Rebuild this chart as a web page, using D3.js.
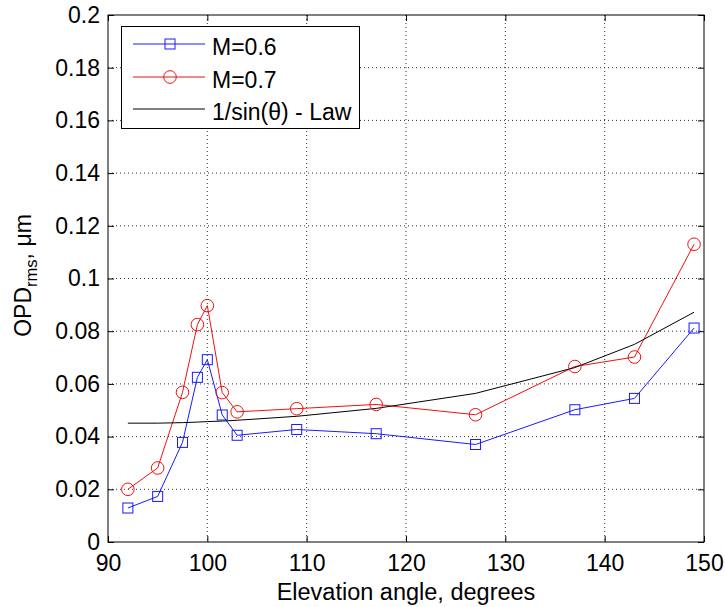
<!DOCTYPE html>
<html>
<head>
<meta charset="utf-8">
<script src="https://cdn.jsdelivr.net/npm/d3@7"></script>
<style>
  html, body { margin: 0; padding: 0; background: #fff; }
  svg { display: block; }
  text { font-family: "Liberation Sans", Arial, sans-serif; fill: #000; }
</style>
</head>
<body>
<svg id="chart" width="725" height="607"></svg>
<script>
// ---- data ----
const angles   = [92, 95, 97.5, 99, 100, 101.5, 103, 109, 117, 127, 137, 143, 149];
const m06      = [0.0129, 0.0173, 0.0378, 0.0625, 0.0692, 0.0482, 0.0405, 0.0427, 0.0411, 0.0370, 0.0502, 0.0545, 0.0812];
const m07      = [0.0200, 0.0281, 0.0568, 0.0825, 0.0897, 0.0567, 0.0494, 0.0506, 0.0522, 0.0483, 0.0666, 0.0702, 0.1130];
const lawVals  = [0.0451, 0.0451, 0.0453, 0.0455, 0.0457, 0.0459, 0.0462, 0.0477, 0.0507, 0.0564, 0.0662, 0.0750, 0.0872];
const xTicks   = [90, 100, 110, 120, 130, 140, 150];
const yTicks   = [0, 0.02, 0.04, 0.06, 0.08, 0.1, 0.12, 0.14, 0.16, 0.18, 0.2];
const seriesNames = ["M=0.6", "M=0.7", "1/sin(\u03B8) - Law"];

// ---- layout ----
const L = 108, R = 704, T = 15, B = 542;
const svg = d3.select("#chart");
const x = d3.scaleLinear().domain([90, 150]).range([L, R]);
const y = d3.scaleLinear().domain([0, 0.2]).range([B, T]);
const FS = 23;

// grid
const grid = svg.append("g");
grid.selectAll("line.gx").data(xTicks.slice(1, -1)).enter().append("line")
  .attr("x1", d => x(d)).attr("x2", d => x(d)).attr("y1", T).attr("y2", B)
  .attr("stroke", "#333").attr("stroke-width", 1).attr("stroke-dasharray", "1,3");
grid.selectAll("line.gy").data(yTicks.slice(1, -1)).enter().append("line")
  .attr("y1", d => y(d)).attr("y2", d => y(d)).attr("x1", L).attr("x2", R)
  .attr("stroke", "#333").attr("stroke-width", 1).attr("stroke-dasharray", "1,3");

// axes (inward ticks, MATLAB style)
const tickLen = 6;
const fmtY = d => d === 0 ? "0" : String(+d.toFixed(2));
const axB = svg.append("g").attr("transform", `translate(0,${B})`)
  .call(d3.axisBottom(x).tickValues(xTicks).tickSizeInner(-tickLen).tickSizeOuter(0).tickPadding(13));
const axT = svg.append("g").attr("transform", `translate(0,${T})`)
  .call(d3.axisTop(x).tickValues(xTicks).tickSizeInner(-tickLen).tickSizeOuter(0).tickFormat(""));
const axL = svg.append("g").attr("transform", `translate(${L},0)`)
  .call(d3.axisLeft(y).tickValues(yTicks).tickFormat(fmtY).tickSizeInner(-tickLen).tickSizeOuter(0).tickPadding(8));
const axR = svg.append("g").attr("transform", `translate(${R},0)`)
  .call(d3.axisRight(y).tickValues(yTicks).tickSizeInner(-tickLen).tickSizeOuter(0).tickFormat(""));
[axB, axT, axL, axR].forEach(a => {
  a.select(".domain").remove();
  a.selectAll("line").attr("stroke", "#000");
  a.selectAll("text").attr("font-size", FS).attr("font-family", "Liberation Sans, Arial, sans-serif").attr("fill", "#000");
});
axB.selectAll("text").attr("dy", "0.71em");

// box
svg.append("rect").attr("x", L).attr("y", T).attr("width", R - L).attr("height", B - T)
  .attr("fill", "none").attr("stroke", "#000").attr("stroke-width", 1);

// lines
const line = d3.line().x(d => x(d[0])).y(d => y(d[1]));
const blue = "#1a1aff", red = "#ee1111";
const s06 = angles.map((a, i) => [a, m06[i]]);
const s07 = angles.map((a, i) => [a, m07[i]]);
const sLaw = angles.map((a, i) => [a, lawVals[i]]);

svg.append("path").datum(s06).attr("d", line).attr("fill", "none").attr("stroke", blue).attr("stroke-width", 1);
svg.append("path").datum(s07).attr("d", line).attr("fill", "none").attr("stroke", red).attr("stroke-width", 1);
svg.append("path").datum(sLaw).attr("d", line).attr("fill", "none").attr("stroke", "#000").attr("stroke-width", 1);

const sq = 10;
svg.selectAll("rect.m06").data(s06).enter().append("rect")
  .attr("x", d => x(d[0]) - sq / 2).attr("y", d => y(d[1]) - sq / 2)
  .attr("width", sq).attr("height", sq).attr("fill", "none").attr("stroke", blue).attr("stroke-width", 1);
svg.selectAll("circle.m07").data(s07).enter().append("circle")
  .attr("cx", d => x(d[0])).attr("cy", d => y(d[1])).attr("r", 6.3)
  .attr("fill", "none").attr("stroke", red).attr("stroke-width", 1);

// legend
const lg = svg.append("g");
lg.append("rect").attr("x", 121.5).attr("y", 26.5).attr("width", 238).attr("height", 102)
  .attr("fill", "#fff").attr("stroke", "#000").attr("stroke-width", 1);
const rowsY = [44, 77, 109];
const colors = [blue, red, "#000"];
seriesNames.forEach((name, i) => {
  const yy = rowsY[i];
  lg.append("line").attr("x1", 133).attr("x2", 205).attr("y1", yy).attr("y2", yy)
    .attr("stroke", colors[i]).attr("stroke-width", 1);
  if (i === 0) lg.append("rect").attr("x", 170 - sq / 2).attr("y", yy - sq / 2).attr("width", sq).attr("height", sq)
    .attr("fill", "none").attr("stroke", blue);
  if (i === 1) lg.append("circle").attr("cx", 170).attr("cy", yy).attr("r", 6.3)
    .attr("fill", "none").attr("stroke", red);
  lg.append("text").attr("x", 212).attr("y", yy + 10.5).attr("font-size", FS).text(name);
});

// axis labels
svg.append("text").attr("x", (L + R) / 2).attr("y", 600).attr("text-anchor", "middle")
  .attr("font-size", FS + 0.5).text("Elevation angle, degrees");
const yl = svg.append("text").attr("transform", `translate(31,${(T + B) / 2 - 3}) rotate(-90)`)
  .attr("text-anchor", "middle").attr("font-size", FS);
yl.append("tspan").text("OPD");
yl.append("tspan").attr("font-size", FS * 0.72).attr("dy", 6).text("rms");
yl.append("tspan").attr("dy", -6).text(", \u03BCm");
</script>
</body>
</html>
